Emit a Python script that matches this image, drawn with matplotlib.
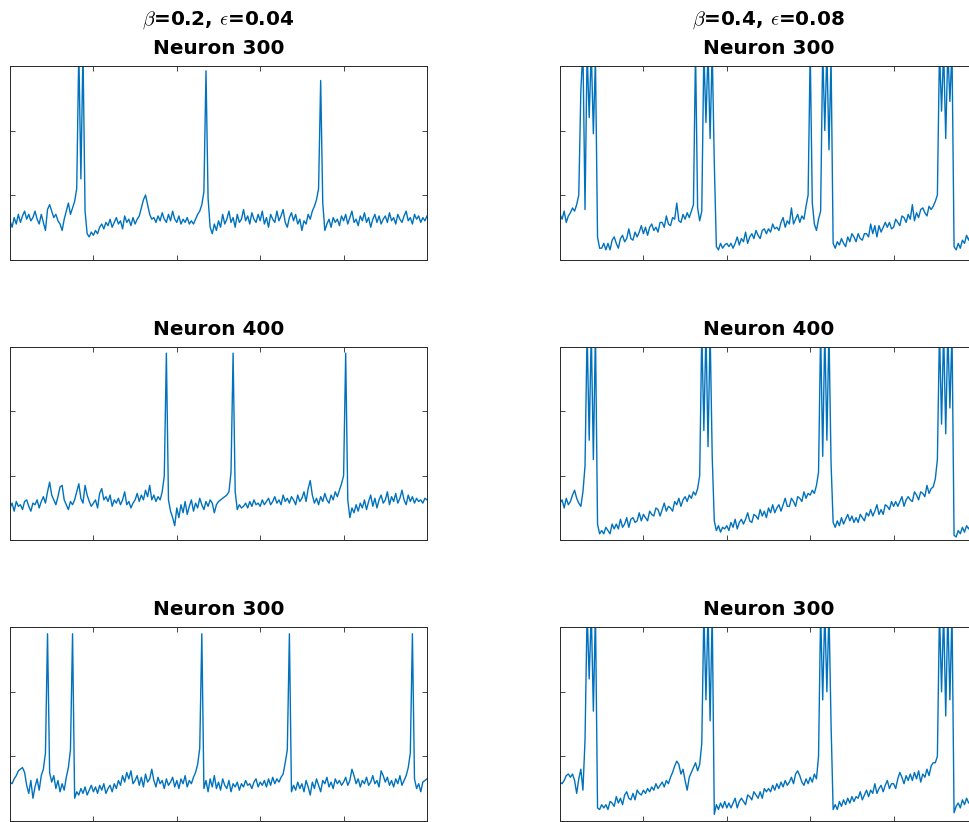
import numpy as np
import matplotlib
matplotlib.use("Agg")
import matplotlib.pyplot as plt

# sampling grid of the traces (ms)
time_ms = np.linspace(0, 500, 201)

# membrane potential (mV), beta=0.2 column
v_b02_n300_a = [
    -56, -60, -54, -58, -52, -57, -53, -50, -55, -52, -56, -54, -50, -55, -58, -52, -57, -62, -49, -46,
    -50, -54, -52, -56, -58, -62, -55, -50, -45, -52, -48, -44, -36, 50, -30, 50, -50, -64, -66, -63,
    -65, -62, -64, -60, -58, -61, -57, -59, -55, -60, -57, -54, -58, -56, -61, -53, -57, -55, -59, -54,
    -58, -55, -53, -48, -43, -40, -46, -52, -55, -54, -57, -53, -56, -51, -55, -57, -52, -56, -50, -55,
    -57, -53, -58, -55, -57, -54, -58, -56, -58, -55, -52, -50, -46, -38, 37, -42, -60, -64, -58, -62,
    -56, -60, -52, -58, -55, -50, -57, -54, -60, -52, -57, -55, -49, -56, -53, -58, -51, -55, -57, -52,
    -56, -50, -58, -54, -60, -52, -55, -57, -50, -56, -53, -49, -57, -60, -54, -51, -56, -52, -58, -55,
    -62, -56, -58, -52, -55, -50, -47, -43, -36, 31, -45, -62, -58, -55, -60, -54, -57, -55, -59, -53,
    -56, -52, -58, -54, -50, -57, -55, -59, -53, -56, -51, -57, -54, -60, -55, -52, -57, -53, -58, -55,
    -53, -57, -51, -56, -54, -58, -52, -55, -57, -53, -50, -56, -54, -58, -52, -55, -53, -57, -54, -56,
    -53,
]
v_b02_n400 = [
    -60, -57, -62, -56, -59, -58, -61, -56, -55, -59, -62, -57, -58, -55, -60, -56, -53, -57, -50, -44,
    -52, -55, -58, -53, -47, -46, -55, -58, -61, -56, -58, -55, -50, -45, -54, -57, -46, -52, -56, -59,
    -57, -55, -60, -51, -48, -55, -53, -56, -52, -59, -55, -57, -54, -58, -55, -50, -58, -56, -60, -57,
    -55, -51, -56, -52, -55, -49, -53, -46, -55, -52, -56, -53, -55, -50, -40, 36, -55, -62, -66, -71,
    -60, -66, -58, -63, -56, -64, -59, -55, -62, -57, -60, -54, -58, -61, -56, -59, -55, -57, -63, -58,
    -56, -55, -54, -53, -52, -50, -38, 36, -50, -61, -58, -60, -59, -57, -60, -56, -59, -55, -58, -57,
    -59, -55, -58, -56, -54, -58, -56, -53, -57, -55, -58, -52, -56, -54, -57, -53, -55, -58, -52, -56,
    -54, -50, -56, -48, -43, -52, -57, -54, -58, -53, -56, -51, -55, -57, -52, -55, -50, -53, -49, -45,
    -40, 36, -55, -66, -60, -63, -58, -62, -57, -60, -55, -61, -56, -52, -59, -54, -60, -55, -52, -57,
    -55, -50, -58, -53, -56, -51, -57, -54, -49, -55, -58, -52, -56, -53, -57, -54, -56, -55, -57, -54,
    -55,
]
v_b02_n300_b = [
    -56, -57, -54, -52, -49, -48, -47, -50, -58, -63, -55, -66, -59, -54, -61, -52, -48, -38, 36, -50,
    -56, -52, -60, -55, -62, -57, -61, -53, -47, -36, 36, -66, -62, -64, -60, -63, -59, -64, -61, -58,
    -62, -59, -63, -58, -61, -57, -63, -60, -58, -62, -57, -60, -55, -58, -52, -56, -50, -54, -49, -57,
    -55, -52, -58, -53, -59, -51, -56, -54, -48, -55, -59, -53, -57, -55, -60, -54, -58, -56, -53, -59,
    -55, -60, -54, -57, -52, -59, -55, -57, -53, -50, -45, -35, 36, -60, -55, -62, -54, -59, -52, -60,
    -56, -61, -54, -58, -60, -55, -62, -57, -59, -56, -61, -57, -59, -55, -58, -57, -60, -56, -54, -59,
    -56, -58, -55, -59, -54, -58, -53, -57, -54, -56, -53, -51, -44, -36, 36, -62, -58, -61, -56, -60,
    -57, -62, -55, -59, -64, -56, -60, -54, -58, -62, -55, -57, -53, -59, -56, -60, -54, -57, -55, -58,
    -56, -53, -58, -55, -48, -52, -57, -54, -59, -55, -57, -53, -58, -56, -52, -57, -55, -59, -49, -52,
    -56, -53, -58, -55, -59, -54, -57, -52, -58, -55, -52, -47, -38, 36, -54, -60, -57, -62, -56, -55,
    -54,
]

# membrane potential (mV), beta=0.4 column
v_b04_n300_a = [
    -52, -55, -50, -57, -53, -51, -48, -50, -46, -40, 25, 50, -49, 50, 8, 50, -2, 45, -66, -73,
    -73, -70, -74, -70, -74, -68, -66, -70, -73, -67, -65, -69, -67, -61, -67, -68, -63, -66, -63, -59,
    -64, -60, -65, -60, -58, -62, -60, -63, -57, -57, -60, -53, -58, -59, -54, -55, -45, -56, -57, -52,
    -55, -51, -54, -50, -46, 50, -48, -56, -50, 50, 5, 50, -5, 50, -20, -72, -74, -70, -73, -71,
    -70, -72, -70, -73, -70, -66, -71, -67, -69, -63, -70, -66, -64, -67, -62, -65, -67, -62, -61, -64,
    -61, -63, -58, -61, -60, -62, -57, -54, -60, -56, -58, -48, -58, -55, -52, -57, -53, -55, -47, -40,
    50, -45, -58, -62, -55, -50, 50, 0, 50, -12, 45, -70, -73, -69, -71, -67, -70, -72, -66, -69,
    -64, -66, -69, -64, -67, -68, -64, -64, -66, -58, -64, -59, -66, -59, -63, -60, -57, -60, -57, -61,
    -60, -55, -57, -59, -53, -54, -57, -52, -55, -46, -56, -51, -54, -49, -48, -51, -53, -47, -49, -47,
    -44, -40, 50, 12, 50, -5, 50, 18, 50, -72, -74, -70, -73, -68, -70, -65, -68, -64, -66, -63,
    -65,
]
v_b04_n400 = [
    -57, -55, -60, -54, -58, -56, -52, -49, -54, -57, -59, -50, -34, 50, -18, 50, -30, 50, -70, -76,
    -74, -76, -72, -74, -76, -70, -73, -70, -73, -67, -72, -70, -66, -72, -67, -66, -69, -68, -63, -68,
    -64, -66, -68, -62, -64, -65, -60, -61, -65, -61, -57, -62, -59, -60, -62, -56, -58, -54, -59, -55,
    -53, -56, -52, -54, -50, -52, -48, -40, 50, -12, 50, -22, 50, -28, -68, -74, -71, -75, -72, -73,
    -71, -74, -69, -72, -67, -73, -69, -67, -70, -67, -63, -68, -69, -64, -65, -67, -61, -65, -62, -66,
    -60, -63, -58, -63, -60, -58, -62, -58, -54, -59, -59, -54, -56, -59, -53, -54, -56, -50, -54, -51,
    -52, -49, -51, -46, -38, 50, -28, 50, -18, 50, -32, -69, -72, -68, -71, -66, -70, -67, -64, -68,
    -65, -69, -66, -69, -64, -66, -68, -63, -65, -61, -65, -62, -58, -64, -61, -64, -58, -59, -61, -56,
    -59, -56, -59, -56, -53, -59, -55, -53, -55, -56, -50, -52, -55, -50, -51, -53, -46, -51, -48, -47,
    -42, -30, 50, -8, 50, -14, 50, 2, 50, -77, -78, -74, -76, -72, -75, -71, -73, -70, -72, -69,
    -71,
]
v_b04_n300_b = [
    -56, -57, -55, -52, -51, -53, -51, -55, -63, -54, -48, -61, -30, 50, 8, 50, -12, 50, -72, -73,
    -70, -72, -70, -73, -68, -69, -71, -65, -69, -66, -70, -64, -62, -66, -67, -63, -67, -61, -63, -64,
    -61, -63, -60, -62, -59, -61, -57, -60, -58, -56, -59, -55, -57, -53, -50, -46, -43, -45, -51, -48,
    -55, -61, -53, -50, -47, -44, -49, -45, -32, 50, -5, 50, -18, 50, -76, -70, -73, -69, -72, -68,
    -72, -69, -72, -69, -66, -72, -68, -66, -68, -70, -64, -65, -67, -62, -64, -66, -62, -66, -60, -62,
    -60, -62, -58, -61, -57, -60, -56, -59, -55, -58, -56, -53, -57, -51, -49, -52, -56, -58, -54, -57,
    -53, -56, -51, -54, -40, 50, -5, 50, 0, 50, -20, -73, -70, -73, -68, -71, -67, -70, -66, -69,
    -65, -68, -65, -66, -62, -67, -64, -61, -65, -61, -63, -57, -63, -60, -58, -62, -58, -55, -60, -57,
    -57, -60, -54, -50, -53, -57, -52, -55, -51, -55, -50, -54, -49, -56, -51, -53, -48, -52, -46, -44,
    -44, -40, 50, 0, 50, -15, 50, -5, 50, -75, -71, -69, -72, -67, -70, -66, -69, -67, -70, -66,
    -67,
]

col_titles = [r"$\beta$=0.2, $\epsilon$=0.04", r"$\beta$=0.4, $\epsilon$=0.08"]
row_titles = ["Neuron 300", "Neuron 400", "Neuron 300"]
traces = [
    [v_b02_n300_a, v_b04_n300_a],
    [v_b02_n400, v_b04_n400],
    [v_b02_n300_b, v_b04_n300_b],
]

plt.rcParams["font.family"] = ["DejaVu Sans"]
plt.rcParams["mathtext.fontset"] = "cm"

fig = plt.figure(figsize=(9.69, 8.22), dpi=100)

W, H = 969, 822
lefts = [10, 560]
tops = [66, 346.7, 627.3]
ax_w, ax_h = 417, 193.5

for r in range(3):
    for c in range(2):
        ax = fig.add_axes([lefts[c] / W, 1 - (tops[r] + ax_h) / H, ax_w / W, ax_h / H])
        ax.plot(time_ms, traces[r][c], color="#0072BD", lw=1.0)
        ax.set_xlim(0, 500)
        ax.set_ylim(-80, 40)
        ax.set_xticks([100, 200, 300, 400])
        ax.set_yticks([-40, 0])
        ax.set_xticklabels([])
        ax.set_yticklabels([])
        ax.tick_params(direction="in", length=3.5, width=0.6, color="#262626",
                       top=True, right=True)
        for s in ax.spines.values():
            s.set_color("#262626")
            s.set_linewidth(0.7)
        if r == 0:
            title = col_titles[c] + "\n" + row_titles[r]
        else:
            title = row_titles[r]
        ax.set_title(title, fontsize=14.4, fontweight="bold", pad=8.6, linespacing=1.55)

fig.savefig("out.png", dpi=100)
